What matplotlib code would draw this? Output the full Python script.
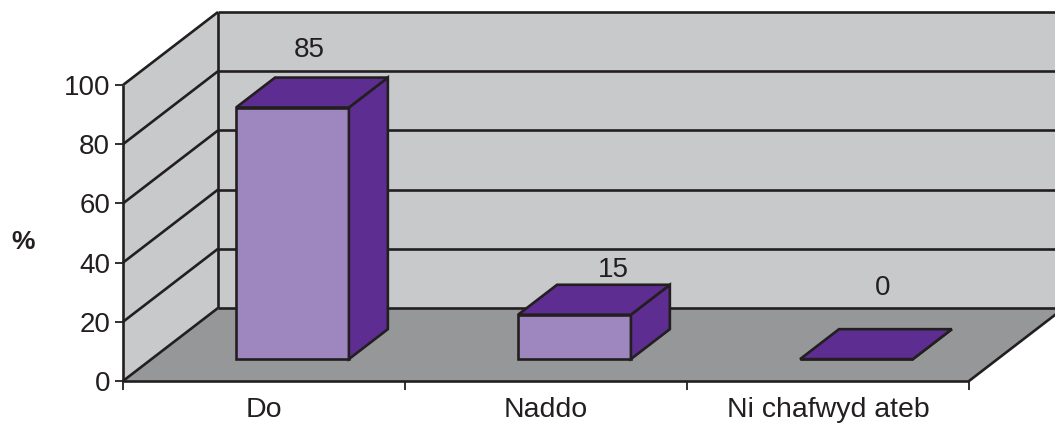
import matplotlib
matplotlib.use("Agg")
import matplotlib.pyplot as plt
from matplotlib.patches import Polygon

categories = ["Do", "Naddo", "Ni chafwyd ateb"]
values = [85, 15, 0]
value_labels = ["85", "15", "0"]
y_ticks = [0, 20, 40, 60, 80, 100]

plt.rcParams['font.family'] = ['Liberation Sans', 'DejaVu Sans']

W, H = 1055, 425
fig = plt.figure(figsize=(W / 100, H / 100), dpi=100)
ax = fig.add_axes([123 / W, 44 / H, 846 / W, 296 / H])
ax.set_xlim(0, 3)
ax.set_ylim(0, 100)
for s in ax.spines.values():
    s.set_visible(False)
ax.patch.set_visible(False)

# depth direction (pixels per full depth) converted to data units
px_per_x = 846 / 3.0
px_per_y = 296 / 100.0
DX = 95 / px_per_x
DY = 73 / px_per_y

def P(x, v, d):
    return (x + d * DX, v + d * DY)

WALL = "#C8C9CB"
FLOOR = "#969799"
EDGE = "#231F20"
FRONT = "#9E87BE"
DARK = "#5E2D91"
LW = 1.9
ncat = len(categories)

def poly(pts, fc, z, ec="none", lw=0):
    ax.add_patch(Polygon(pts, closed=True, facecolor=fc, edgecolor=ec,
                         linewidth=lw, zorder=z, clip_on=False, joinstyle="miter"))

def line(a, b, z=3):
    ax.plot([a[0], b[0]], [a[1], b[1]], color=EDGE, lw=LW, zorder=z,
            clip_on=False, solid_capstyle="butt")

# walls and floor
poly([P(0, 0, 1), P(ncat, 0, 1), P(ncat, 100, 1), P(0, 100, 1)], WALL, 1)
poly([P(0, 0, 0), P(0, 0, 1), P(0, 100, 1), P(0, 100, 0)], WALL, 1)
poly([P(0, 0, 0), P(ncat, 0, 0), P(ncat, 0, 1), P(0, 0, 1)], FLOOR, 1)

for v in y_ticks:
    line(P(0, v, 1), P(ncat, v, 1))
    line(P(0, v, 0), P(0, v, 1))
line(P(0, 0, 1), P(0, 100, 1))
line(P(0, 0, 0), P(0, 100, 0))
line(P(0, 0, 0), P(ncat, 0, 0))
line(P(ncat, 0, 0), P(ncat, 0, 1))

# bars
d0, d1 = 0.30, 0.71
bw = 0.4
xs = [i + 0.5 for i in range(ncat)]
fx, fy = P(0, 0, d0)
ax.bar([x + fx for x in xs], values, width=bw, bottom=fy, color=FRONT,
       edgecolor=EDGE, linewidth=LW, zorder=5, clip_on=False)
for x, v in zip(xs, values):
    xl, xr = x - bw / 2, x + bw / 2
    poly([P(xr, 0, d0), P(xr, 0, d1), P(xr, v, d1), P(xr, v, d0)], DARK, 5, EDGE, LW)
    poly([P(xl, v, d0), P(xr, v, d0), P(xr, v, d1), P(xl, v, d1)], DARK, 6, EDGE, LW)

# data labels (offsets in pixels)
label_offsets = [(-22, 28), (0, 15), (-13, 41)]
for x, v, lab, (ox, oy) in zip(xs, values, value_labels, label_offsets):
    ax.annotate(lab, xy=P(x, v, d1), xytext=(ox * 0.72, oy * 0.72),
                textcoords="offset points", ha="center", va="center",
                fontsize=20, color=EDGE, zorder=7, annotation_clip=False)

# axes ticks
ax.set_yticks(y_ticks)
ax.set_yticklabels([str(t) for t in y_ticks])
ax.tick_params(axis="y", length=5.8, width=1.3, color=EDGE, pad=3.5,
               labelsize=20, labelcolor=EDGE)
ax.set_xticks(range(ncat + 1))
ax.set_xticklabels([])
ax.tick_params(axis="x", which="major", length=6.5, width=1.3, color=EDGE)
ax.set_xticks(xs, minor=True)
ax.set_xticklabels(categories, minor=True)
ax.tick_params(axis="x", which="minor", length=0, pad=11.5, labelsize=20.5,
               labelcolor=EDGE)

fig.text(23 / W, 1 - 242 / H, "%", fontsize=19, fontweight="bold",
         ha="center", va="center", color=EDGE)

fig.savefig("out.png", dpi=100)
